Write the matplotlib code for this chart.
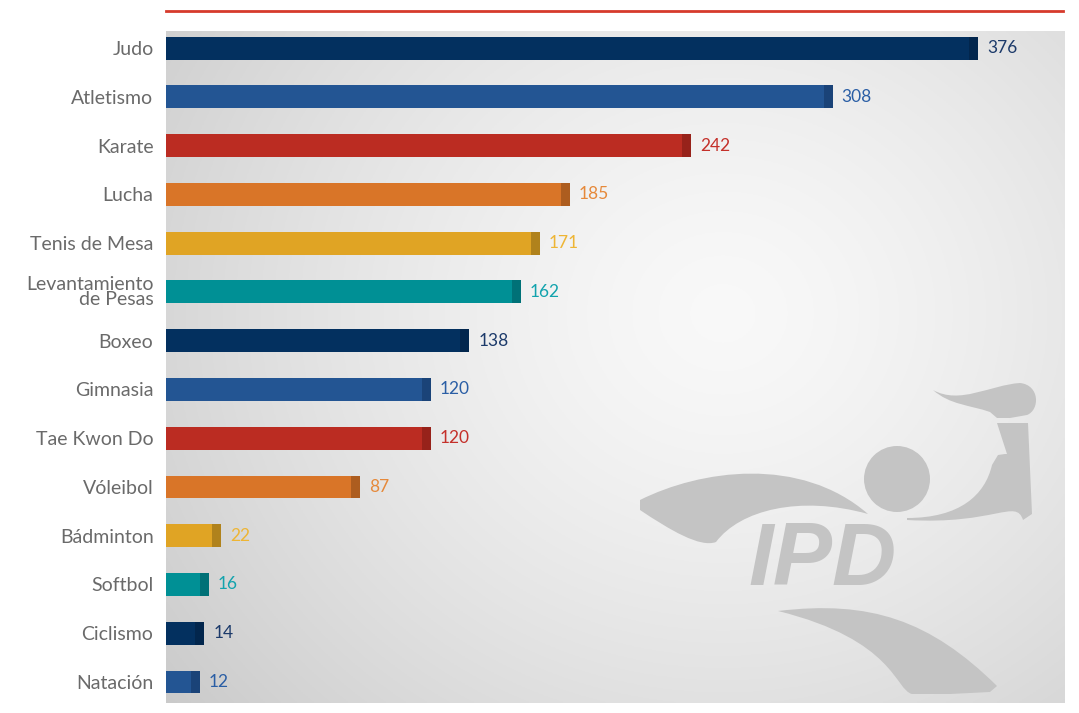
import numpy as np
import matplotlib.pyplot as plt
from matplotlib.path import Path
from matplotlib.patches import PathPatch, Ellipse

# data
sports = ['Judo', 'Atletismo', 'Karate', 'Lucha', 'Tenis de Mesa',
          'Levantamiento\nde Pesas', 'Boxeo', 'Gimnasia', 'Tae Kwon Do',
          'Vóleibol', 'Bádminton', 'Softbol', 'Ciclismo', 'Natación']
values = [376, 308, 242, 185, 171, 162, 138, 120, 120, 87, 22, 16, 14, 12]

# colour cycle (bar, end cap, label)
bar_cols = ['#03305f', '#235593', '#bb2c22', '#d97528', '#e0a424', '#009095']
cap_cols = ['#02264d', '#1a4378', '#97221a', '#ad5d1f', '#b0821c', '#007177']
txt_cols = ['#1c3a6a', '#2a5ea5', '#c4302a', '#e6893a', '#eeb534', '#12a3ad']

W, H = 1079, 713
fig = plt.figure(figsize=(W / 100, H / 100), dpi=100)
fig.patch.set_facecolor('white')
ax = fig.add_axes([166 / W, 10 / H, 899 / W, 672 / H])

x_min, x_max = -3.9, 416.8
cap = 4.2

# radial grey background
gx, gy = np.meshgrid(np.linspace(0, 1, 400), np.linspace(0, 1, 300))
d = np.sqrt(((gx - 0.62) / 0.75) ** 2 + ((gy - 0.58) / 0.9) ** 2)
shade = 0.975 - 0.17 * np.clip(d, 0, 1.2) ** 1.4
ax.imshow(np.dstack([shade] * 3), extent=[0, 1, 0, 1], transform=ax.transAxes,
          aspect='auto', zorder=0, origin='lower')

# logo watermark (figure pixel coords)
def fp(pts):
    return [(px / W, 1 - py / H) for px, py in pts]

logo_col = '#c4c4c4'
C4 = Path.CURVE4
wing = Path(fp([(640, 500), (700, 470), (800, 455), (868, 514),
                (800, 495), (740, 510), (716, 542),
                (700, 548), (670, 530), (640, 510), (640, 500)]),
            [Path.MOVETO, C4, C4, C4, C4, C4, C4, C4, C4, C4, Path.CLOSEPOLY])
lower = Path(fp([(778, 611), (870, 600), (930, 620), (997, 686),
                 (990, 692), (950, 694), (912, 694),
                 (895, 690), (895, 640), (778, 611), (778, 611)]),
             [Path.MOVETO, C4, C4, C4, Path.LINETO, Path.LINETO, Path.LINETO,
              C4, C4, C4, Path.CLOSEPOLY])
arm = Path(fp([(907, 518), (960, 518), (985, 495), (992, 465),
               (998, 455), (1005, 454), (1007, 454),
               (997, 423), (1028, 423), (1032, 514), (1023, 520),
               (1016, 498), (995, 525), (907, 520), (907, 518)]),
           [Path.MOVETO, C4, C4, C4, Path.LINETO, Path.LINETO, Path.LINETO,
            Path.LINETO, Path.LINETO, Path.LINETO, Path.LINETO,
            C4, C4, C4, Path.CLOSEPOLY])
flame = Path(fp([(933, 390), (960, 405), (990, 385), (1020, 383),
                 (1040, 385), (1040, 410), (1027, 415),
                 (1010, 418), (997, 418), (990, 412),
                 (970, 405), (950, 405), (933, 390)]),
             [Path.MOVETO, C4, C4, C4, C4, C4, C4, Path.LINETO, Path.LINETO,
              Path.LINETO, C4, C4, C4])
for p in (wing, lower, arm, flame):
    fig.add_artist(PathPatch(p, transform=fig.transFigure, fc=logo_col,
                             ec='none', zorder=1))
fig.add_artist(Ellipse((897 / W, 1 - 479 / H), 66 / W, 66 / H,
                       transform=fig.transFigure, fc=logo_col, ec='none',
                       zorder=1))
fig.text(822 / W, 1 - 562 / H, 'IPD', fontsize=64, fontweight='bold',
         style='italic', family='Liberation Sans', color=logo_col,
         ha='center', va='center', zorder=1)

# bars
y = np.arange(len(values))
for i, v in enumerate(values):
    c = i % len(bar_cols)
    ax.barh(i, v - x_min, left=x_min, height=0.47, color=bar_cols[c], zorder=3)
    ax.barh(i, cap, left=v - cap, height=0.47, color=cap_cols[c], zorder=4)
    ax.annotate(str(v), (v, i), xytext=(6.5, 0), textcoords='offset points',
                va='center', ha='left', fontsize=12.5, family='Lato',
                color=txt_cols[c], zorder=5)

ax.set_xlim(x_min, x_max)
ax.set_ylim(len(values) - 1 + 0.43, -0.35)
ax.set_yticks(y)
ax.set_yticklabels(sports, fontsize=14, family='Lato', color='#6a6a6a',
                   linespacing=0.85)
ax.tick_params(axis='y', length=0, pad=9)
ax.set_xticks([])
for s in ax.spines.values():
    s.set_visible(False)

# red rule at top
fig.add_artist(plt.Line2D([166 / W, 1063 / W], [1 - 11 / H, 1 - 11 / H],
                          color='#d63a2c', lw=2, transform=fig.transFigure))

fig.savefig('out.png', dpi=100)
